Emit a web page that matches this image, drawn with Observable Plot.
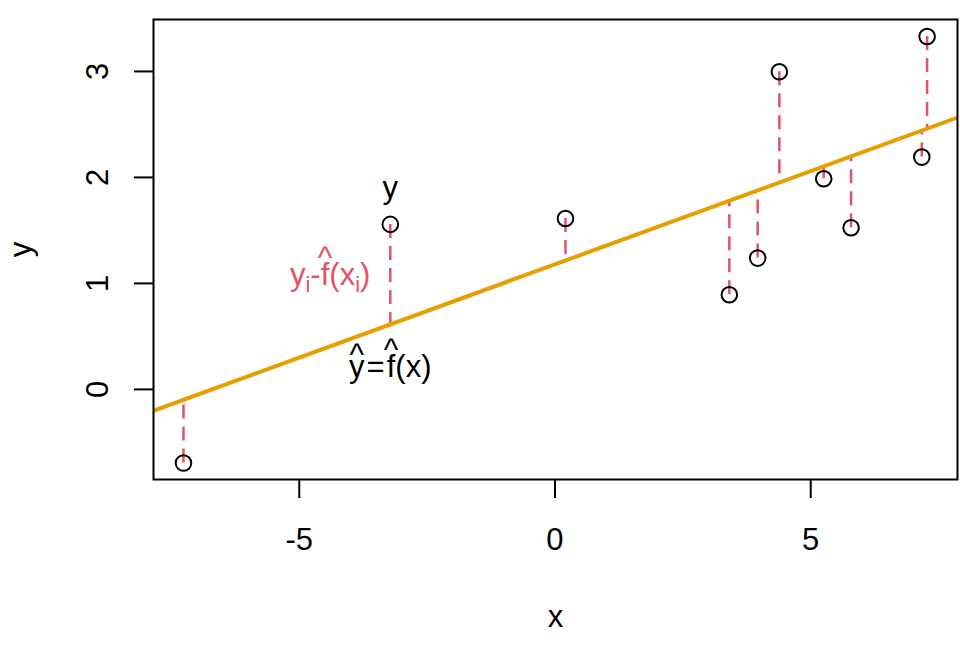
<!DOCTYPE html>
<html><head><meta charset="utf-8">
<script src="https://cdn.jsdelivr.net/npm/d3@7"></script>
<script src="https://cdn.jsdelivr.net/npm/@observablehq/plot@0.6"></script>
<style>
body{margin:0;background:#fff}
svg{font-family:"Liberation Sans",Arial,Helvetica,sans-serif}
</style>
</head><body><div id="chart"></div>
<script>
const xs = [-7.264, -3.22, 0.205, 3.409, 3.963, 4.387, 5.254, 5.789, 7.172, 7.276];
const ys = [-0.695, 1.557, 1.613, 0.893, 1.239, 2.997, 1.988, 1.525, 2.192, 3.330];
// fitted straight line  y = intercept + slope * x
const intercept = 1.18;
const slope = 0.176;
const xTicks = [-5, 0, 5];
const yTicks = [0, 1, 2, 3];
const xDomain = [-7.85, 7.87];
const yDomain = [-0.85, 3.49];

const FS = 31;
const pts = xs.map((x, i) => ({x, y: ys[i], fit: intercept + slope * x}));
const lineData = xDomain.map(x => ({x, y: intercept + slope * x}));
const labelPt = pts[1];

const chart = Plot.plot({
  width: 960, height: 672,
  marginLeft: 153, marginRight: 3, marginTop: 19, marginBottom: 193,
  style: {fontFamily: '"Liberation Sans", Arial, sans-serif', fontSize: FS + "px", background: "white", color: "black"},
  x: {domain: xDomain},
  y: {domain: yDomain},
  marks: [
    Plot.ruleX(pts, {x: "x", y1: "y", y2: "fit", stroke: "#DF536B", strokeWidth: 2.5, strokeDasharray: "14,8"}),
    Plot.line(lineData, {x: "x", y: "y", stroke: "#E69F00", strokeWidth: 4, clip: true}),
    Plot.dot(pts, {x: "x", y: "y", r: 7.8, stroke: "black", strokeWidth: 2, fill: "none"}),
    Plot.frame({stroke: "black", strokeWidth: 2}),
    Plot.axisX({ticks: xTicks, tickSize: 19, tickPadding: 29, fontSize: FS, label: null, strokeWidth: 2, tickFormat: d => String(d)}),
    Plot.axisY({ticks: yTicks, tickSize: 19, tickPadding: 27, tickRotate: -90, fontSize: FS, label: null, strokeWidth: 2, tickFormat: d => String(d)}),
    Plot.text(["x"], {frameAnchor: "bottom", lineAnchor: "middle", dy: 138, text: d => d, fontSize: FS}),
    Plot.text(["y"], {frameAnchor: "left", textAnchor: "middle", dx: -132, rotate: -90, text: d => d, fontSize: FS}),
    Plot.text([labelPt], {x: "x", y: "y", text: () => "y", dy: -36.5, fontSize: FS}),
    Plot.text([labelPt], {x: "x", y: "fit", text: () => "ŷ=f̂(x)", dy: 43, fontSize: FS, className: "fit-label"}),
    Plot.text([labelPt], {x: "x", y: d => (d.y + d.fit) / 2, text: () => "yᵢ-f̂(xᵢ)", textAnchor: "end", dx: -20, dy: 0.5, fill: "#DF536B", fontSize: FS, className: "resid-label"})
  ]
});
document.getElementById("chart").appendChild(chart);

// plotmath-like rendering: subscripts and hats as tspans (still real text)
const ADV = {y: 0.5, f: 0.278};
const HATW = 0.469;
function rich(textEl, parts) {
  const sel = d3.select(textEl);
  sel.text(null);
  let cur = 0, pendingDx = 0;
  for (const p of parts) {
    const target = p.sub ? 0.23 * FS : 0;
    const ts = sel.append("tspan").text(p.t).attr("dy", target - cur);
    cur = target;
    if (p.sub) ts.attr("font-size", FS * 0.7);
    const dx = pendingDx + (p.gap || 0);
    if (dx) ts.attr("dx", dx);
    pendingDx = 0;
    if (p.hat) {
      const bw = ADV[p.t] * FS, hw = HATW * FS;
      sel.append("tspan").text("^").attr("dx", -(bw + hw) / 2).attr("dy", -p.hat - cur);
      cur = -p.hat;
      pendingDx = (bw - hw) / 2;
    }
  }
}
d3.select(chart).selectAll(".fit-label text").each(function() {
  rich(this, [{t: "y", hat: 12}, {t: "=", gap: 2}, {t: "f", hat: 17, gap: 2}, {t: "(x)"}]);
});
d3.select(chart).selectAll(".resid-label text").each(function() {
  rich(this, [{t: "y"}, {t: "i", sub: true}, {t: "-"}, {t: "f", hat: 17}, {t: "(x"}, {t: "i", sub: true}, {t: ")"}]);
});
</script>
</body></html>
